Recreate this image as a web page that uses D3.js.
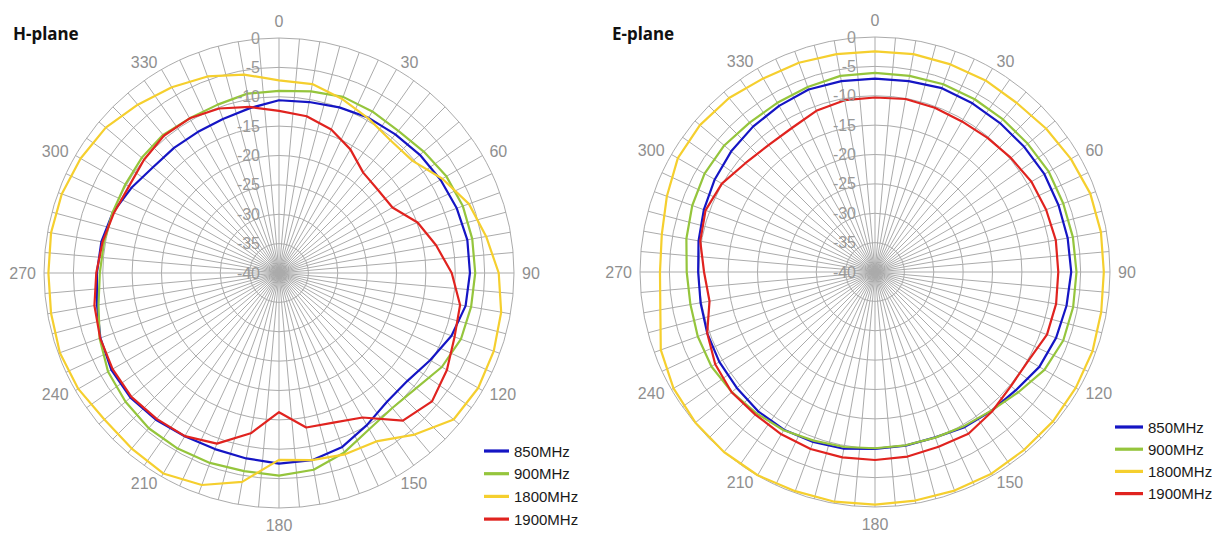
<!DOCTYPE html>
<html>
<head>
<meta charset="utf-8">
<script src="https://cdn.jsdelivr.net/npm/d3@7"></script>
<style>
  html, body { margin: 0; padding: 0; background: #ffffff; }
  svg { display: block; }
</style>
</head>
<body>
<svg id="chart" width="1212" height="533"></svg>
<script>
// ---------------- data ----------------
const angles = [0,10,20,30,40,50,60,70,80,90,100,110,120,130,140,150,160,170,
                180,190,200,210,220,230,240,250,260,270,280,290,300,310,320,330,340,350];

const seriesNames = ["850MHz", "900MHz", "1800MHz", "1900MHz"];

// H-plane (dB)
const hPlane850  = [-10.6,-10.45,-10.0,-9.5,-9.2,-8.7,-8.25,-7.8,-7.45,-7.5,-7.75,-8.75,-10.3,-11.45,-11.4,-10.1,-8.5,-7.65,
                    -7.55,-7.95,-8.1,-7.9,-7.4,-7.0,-7.05,-7.65,-8.55,-9.0,-9.3,-9.9,-11.0,-12.0,-12.2,-12.3,-12.1,-11.5];
const hPlane900  = [-9.0,-8.6,-8.1,-8.25,-8.4,-7.85,-7.1,-6.7,-6.6,-6.6,-6.8,-7.05,-8.0,-9.5,-10.0,-9.3,-7.5,-6.0,
                    -5.5,-5.75,-5.6,-5.5,-5.5,-5.9,-6.4,-7.5,-8.8,-9.5,-9.75,-9.85,-9.8,-9.5,-9.3,-9.6,-9.5,-9.0];
const hPlane1800 = [-7.2,-7.35,-8.5,-9.6,-10.5,-10.3,-7.9,-5.6,-4.2,-2.6,-1.6,-1.1,-0.85,-1.2,-4.1,-6.9,-7.15,-7.65,
                    -8.2,-3.9,-1.6,-0.6,-1.0,-1.2,-0.55,-0.3,-0.6,-0.75,-0.6,-0.65,-1.0,-1.5,-2.6,-3.5,-4.4,-5.7];
const hPlane1900 = [-12.4,-12.9,-14.0,-15.7,-17.7,-18.0,-17.7,-14.9,-12.85,-10.6,-8.7,-8.2,-7.0,-6.0,-7.2,-11.6,-12.9,-13.3,
                    -16.3,-12.3,-9.1,-7.95,-7.6,-7.2,-7.3,-7.6,-8.1,-8.9,-9.5,-10.1,-10.5,-10.0,-9.5,-9.6,-10.2,-11.3];

// E-plane (dB)
const ePlane850  = [-7.1,-7.0,-6.7,-6.85,-6.9,-6.85,-6.7,-6.75,-6.7,-6.6,-6.9,-7.2,-7.7,-8.7,-9.15,-9.5,-10.05,-10.0,
                    -9.9,-9.45,-9.2,-9.0,-9.05,-9.3,-9.4,-9.6,-9.85,-9.9,-9.5,-9.0,-8.5,-8.05,-7.7,-7.35,-6.95,-7.0];
const ePlane900  = [-6.1,-6.1,-6.0,-6.05,-6.1,-6.05,-5.85,-5.9,-5.8,-5.7,-5.75,-5.9,-6.7,-8.15,-9.2,-9.7,-10.0,-10.05,
                    -10.0,-9.75,-9.45,-8.9,-8.6,-8.2,-7.85,-7.9,-8.1,-7.95,-7.4,-6.9,-6.5,-6.5,-6.8,-6.75,-6.5,-6.1];
const ePlane1800 = [-2.45,-2.35,-2.4,-2.35,-2.45,-2.0,-1.5,-1.0,-0.95,-1.05,-0.9,-0.6,-0.55,-0.45,-0.5,-0.35,-0.4,-0.5,
                    -0.4,-0.3,-0.3,-0.05,0.0,-0.1,-0.4,-1.2,-2.9,-3.4,-3.15,-2.3,-1.25,-1.1,-1.35,-1.95,-2.1,-2.35];
const ePlane1900 = [-10.3,-10.1,-10.25,-10.4,-10.2,-9.8,-9.25,-9.0,-8.75,-8.8,-8.7,-8.85,-9.85,-9.8,-9.0,-8.2,-8.35,-8.1,
                    -8.0,-7.95,-7.95,-8.1,-8.3,-8.15,-8.6,-9.6,-11.4,-10.9,-9.8,-9.3,-9.9,-11.2,-11.8,-11.7,-10.8,-10.3];

const angleTickLabels  = ["0","30","60","90","120","150","180","210","240","270","300","330"];
const angleTickValues  = [0,30,60,90,120,150,180,210,240,270,300,330];
const radialTickValues = [0,-5,-10,-15,-20,-25,-30,-35,-40];
const spokeAngles = [0,5,10,15,20,25,30,35,40,45,50,55,60,65,70,75,80,85,90,95,100,105,110,115,120,125,130,135,
                     140,145,150,155,160,165,170,175,180,185,190,195,200,205,210,215,220,225,230,235,240,245,250,255,
                     260,265,270,275,280,285,290,295,300,305,310,315,320,325,330,335,340,345,350,355];

const seriesColors = ["#1515c4", "#95c53c", "#f5cf2e", "#e0231f"];

// ---------------- drawing ----------------
const svg = d3.select("#chart");
const R = 235;
const rScale = d3.scaleLinear().domain([-40, 0]).range([0, R]);
const toRad = d => d * Math.PI / 180;

function drawPolar(opts) {
  const g = svg.append("g").attr("transform", `translate(${opts.cx},${opts.cy})`);

  // rings
  g.append("g").selectAll("circle")
    .data(radialTickValues.filter(v => v > -40))
    .join("circle")
    .attr("r", d => rScale(d))
    .attr("fill", "none")
    .attr("stroke", "#ababab")
    .attr("stroke-width", 1);

  // spokes
  g.append("g").selectAll("line")
    .data(spokeAngles)
    .join("line")
    .attr("x1", 0).attr("y1", 0)
    .attr("x2", d => R * Math.sin(toRad(d)))
    .attr("y2", d => -R * Math.cos(toRad(d)))
    .attr("stroke", "#ababab")
    .attr("stroke-width", 1);

  // series
  const line = d3.lineRadial()
    .angle(d => toRad(d[0]))
    .radius(d => rScale(d[1]))
    .curve(d3.curveLinearClosed);

  opts.series.forEach((vals, i) => {
    g.append("path")
      .datum(angles.map((a, j) => [a, vals[j]]))
      .attr("d", line)
      .attr("fill", "none")
      .attr("stroke", seriesColors[i])
      .attr("stroke-width", 2.2)
      .attr("stroke-linejoin", "round");
  });

  // radial tick labels
  g.append("g").selectAll("text")
    .data(radialTickValues)
    .join("text")
    .attr("x", -19)
    .attr("y", d => -rScale(d))
    .attr("text-anchor", "end")
    .attr("dominant-baseline", "central")
    .attr("font-family", "'Liberation Sans', Arial, sans-serif")
    .attr("font-size", 16)
    .attr("fill", "#999999")
    .text(d => d);

  // angle tick labels
  const at = g.append("g").selectAll("text")
    .data(angleTickValues)
    .join("text")
    .attr("text-anchor", "middle")
    .attr("dominant-baseline", "central")
    .attr("font-family", "'Liberation Sans', Arial, sans-serif")
    .attr("font-size", 16)
    .attr("fill", "#8f8f8f")
    .text((d, i) => angleTickLabels[i]);
  at.each(function(d) {
    const w = this.getComputedTextLength();
    const s = Math.sin(toRad(d)), c = Math.cos(toRad(d));
    const rr = R + 8;
    let x = rr * s, y = -rr * c;
    if (Math.abs(s) > 0.01) x += Math.sign(s) * w / 2;
    else y -= Math.sign(c) * 9;
    d3.select(this).attr("x", x).attr("y", y);
  });

  // title
  svg.append("text")
    .attr("x", opts.titleX).attr("y", 40)
    .attr("font-family", "'Noto Sans', 'Open Sans', sans-serif")
    .attr("font-weight", "bold")
    .attr("font-size", 17)
    .attr("fill", "#111111")
    .text(opts.title);

  // legend
  const lg = svg.append("g");
  seriesNames.forEach((name, i) => {
    const y = opts.legY + i * opts.legStep;
    lg.append("line")
      .attr("x1", opts.legX).attr("x2", opts.legX + opts.legLen)
      .attr("y1", y).attr("y2", y)
      .attr("stroke", seriesColors[i])
      .attr("stroke-width", 3.2);
    lg.append("text")
      .attr("x", opts.legX + opts.legLen + 5)
      .attr("y", y)
      .attr("dominant-baseline", "central")
      .attr("font-family", "'Liberation Sans', Arial, sans-serif")
      .attr("font-size", 15)
      .attr("fill", "#1a1a1a")
      .text(name);
  });
}

drawPolar({
  cx: 279, cy: 273, title: "H-plane", titleX: 13,
  series: [hPlane850, hPlane900, hPlane1800, hPlane1900],
  legX: 484, legY: 451, legStep: 22.7, legLen: 25
});
drawPolar({
  cx: 875, cy: 272, title: "E-plane", titleX: 612,
  series: [ePlane850, ePlane900, ePlane1800, ePlane1900],
  legX: 1115, legY: 427, legStep: 22.2, legLen: 28
});
</script>
</body>
</html>
